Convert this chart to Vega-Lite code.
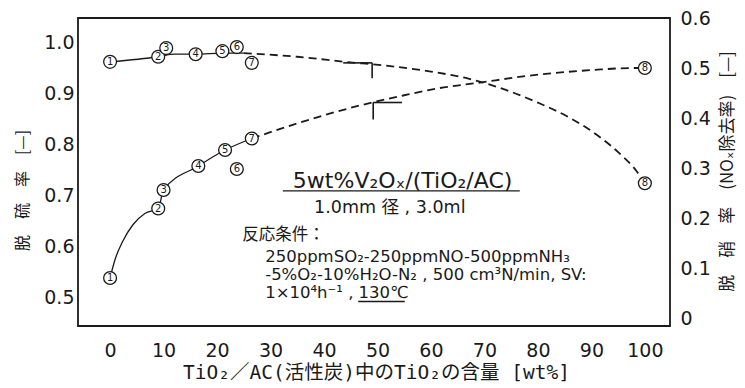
{
  "$schema": "https://vega.github.io/schema/vega-lite/v6.json",
  "width": 592,
  "height": 308,
  "autosize": "none",
  "padding": {"left": 78, "top": 18, "right": 75, "bottom": 62},
  "background": "white",
  "config": {
    "view": {"stroke": "#1a1a1a", "strokeWidth": 1.8},
    "axis": {
      "domain": false,
      "grid": false,
      "ticks": false,
      "labelFont": "DejaVu Sans",
      "labelFontSize": 19,
      "labelColor": "#1a1a1a",
      "titleColor": "#1a1a1a",
      "titleFontWeight": "normal"
    }
  },
  "datasets": {
    "so2Pts": [
      {"no": "1", "x": 0, "y": 0.963},
      {"no": "2", "x": 9, "y": 0.973},
      {"no": "3", "x": 10.5, "y": 0.99},
      {"no": "4", "x": 16, "y": 0.978},
      {"no": "5", "x": 21, "y": 0.984},
      {"no": "6", "x": 23.7, "y": 0.992},
      {"no": "7", "x": 26.5, "y": 0.961},
      {"no": "8", "x": 100, "y": 0.725}
    ],
    "so2Solid": [
      {"x": 0, "y": 0.963},
      {"x": 9, "y": 0.973},
      {"x": 12, "y": 0.978},
      {"x": 16, "y": 0.978},
      {"x": 21, "y": 0.98},
      {"x": 25, "y": 0.98}
    ],
    "so2Dash": [
      {"x": 25, "y": 0.98},
      {"x": 35, "y": 0.973},
      {"x": 44, "y": 0.963},
      {"x": 52, "y": 0.955},
      {"x": 60, "y": 0.944},
      {"x": 67, "y": 0.93},
      {"x": 74, "y": 0.908},
      {"x": 80, "y": 0.883},
      {"x": 86, "y": 0.853},
      {"x": 91, "y": 0.82},
      {"x": 95, "y": 0.786},
      {"x": 98.5, "y": 0.748},
      {"x": 100, "y": 0.725}
    ],
    "so2Flag": [
      {"x": 43.6, "x2": 49, "y": 0.961, "y2": 0.961},
      {"x": 49, "x2": 49, "y": 0.961, "y2": 0.931}
    ],
    "noxPts": [
      {"no": "1", "x": 0, "y": 0.08},
      {"no": "2", "x": 9, "y": 0.219},
      {"no": "3", "x": 10, "y": 0.256},
      {"no": "4", "x": 16.5, "y": 0.304},
      {"no": "5", "x": 21.5, "y": 0.336},
      {"no": "6", "x": 23.7, "y": 0.298},
      {"no": "7", "x": 26.5, "y": 0.359},
      {"no": "8", "x": 100, "y": 0.5}
    ],
    "noxSolid": [
      {"x": 0, "y": 0.08},
      {"x": 0.9, "y": 0.116},
      {"x": 2.4, "y": 0.154},
      {"x": 4.3, "y": 0.187},
      {"x": 6.5, "y": 0.209},
      {"x": 9, "y": 0.219},
      {"x": 10, "y": 0.256},
      {"x": 16.5, "y": 0.304},
      {"x": 21.5, "y": 0.336},
      {"x": 26.5, "y": 0.359}
    ],
    "noxDash": [
      {"x": 26.5, "y": 0.359},
      {"x": 35.5, "y": 0.391},
      {"x": 46.7, "y": 0.425},
      {"x": 54.8, "y": 0.445},
      {"x": 61.7, "y": 0.46},
      {"x": 68.6, "y": 0.47},
      {"x": 77.9, "y": 0.484},
      {"x": 90.3, "y": 0.496},
      {"x": 97.8, "y": 0.5},
      {"x": 100, "y": 0.5}
    ],
    "noxFlag": [
      {"x": 49.2, "x2": 49.2, "y": 0.431, "y2": 0.397},
      {"x": 49.2, "x2": 54.6, "y": 0.431, "y2": 0.431}
    ],
    "noteTitle": [
      {"label": "5wt%V₂Oₓ/(TiO₂/AC)", "x": 54.7, "y": 0.729}
    ],
    "noteCenter": [
      {"label": "1.0mm 径 , 3.0ml", "x": 52.3, "y": 0.676}
    ],
    "noteLeft": [
      {"label": "反応条件：", "x": 24.7, "y": 0.624},
      {"label": "250ppmSO₂-250ppmNO-500ppmNH₃", "x": 29, "y": 0.581},
      {"label": "-5%O₂-10%H₂O-N₂ , 500 cm³N/min, SV:", "x": 29, "y": 0.545},
      {"label": "1×10⁴h⁻¹ , 130℃", "x": 29, "y": 0.509}
    ],
    "underlines": [
      {"x": 32.3, "x2": 76.6, "y": 0.71},
      {"x": 46.4, "x2": 55.1, "y": 0.493}
    ],
    "xMajor": [
      {"x": 0}, {"x": 10}, {"x": 20}, {"x": 30}, {"x": 40}, {"x": 50},
      {"x": 60}, {"x": 70}, {"x": 80}, {"x": 90}, {"x": 100}
    ],
    "leftMajor": [
      {"y": 0.5}, {"y": 0.6}, {"y": 0.7}, {"y": 0.8}, {"y": 0.9}, {"y": 1.0}
    ],
    "leftMinor": [
      {"y": 0.55}, {"y": 0.65}, {"y": 0.75}, {"y": 0.85}, {"y": 0.95}
    ],
    "rightMajor": [
      {"y": 0}, {"y": 0.1}, {"y": 0.2}, {"y": 0.3}, {"y": 0.4}, {"y": 0.5}, {"y": 0.6}
    ],
    "rightMinor": [
      {"y": 0.05}, {"y": 0.15}, {"y": 0.25}, {"y": 0.35}, {"y": 0.45}, {"y": 0.55}
    ]
  },
  "encoding": {
    "x": {
      "field": "x",
      "type": "quantitative",
      "scale": {"domain": [-6, 104.7], "nice": false, "zero": false},
      "axis": {
        "values": [0, 10, 20, 30, 40, 50, 60, 70, 80, 90, 100],
        "labelPadding": 15,
        "title": "TiO₂／AC(活性炭)中のTiO₂の含量 [wt%]",
        "titleFont": "DejaVu Sans Mono, Noto Sans CJK JP",
        "titleFontSize": 19.5,
        "titleX": 298,
        "titleY": 46,
        "titleBaseline": "middle"
      }
    }
  },
  "layer": [
    {
      "encoding": {
        "y": {
          "field": "y",
          "type": "quantitative",
          "scale": {"domain": [0.445, 1.049], "nice": false, "zero": false},
          "axis": {
            "orient": "left",
            "values": [0.5, 0.6, 0.7, 0.8, 0.9, 1.0],
            "format": ".1f",
            "labelPadding": 4,
            "title": "脱　硫　率　[—]",
            "titleFont": "Noto Sans CJK JP",
            "titleFontSize": 16,
            "titleX": -56,
            "titleY": 172,
            "titleBaseline": "middle"
          }
        }
      },
      "layer": [
        {"data": {"name": "xMajor"}, "mark": {"type": "tick", "orient": "vertical", "color": "#1a1a1a", "size": 9, "thickness": 2, "yOffset": -4.5, "opacity": 1}, "encoding": {"y": {"datum": 0.445}}},
        {"data": {"name": "leftMajor"}, "mark": {"type": "tick", "orient": "horizontal", "color": "#1a1a1a", "size": 9, "thickness": 2, "xOffset": 4.5, "opacity": 1}, "encoding": {"x": {"datum": -6}}},
        {"data": {"name": "leftMinor"}, "mark": {"type": "tick", "orient": "horizontal", "color": "#1a1a1a", "size": 6, "thickness": 1.6, "xOffset": 3, "opacity": 1}, "encoding": {"x": {"datum": -6}}},
        {"data": {"name": "so2Solid"}, "mark": {"type": "line", "color": "#1a1a1a", "strokeWidth": 1.3, "interpolate": "monotone"}},
        {"data": {"name": "so2Dash"}, "mark": {"type": "line", "color": "#1a1a1a", "strokeWidth": 1.8, "strokeDash": [8, 5], "interpolate": "monotone"}},
        {"data": {"name": "so2Flag"}, "mark": {"type": "rule", "color": "#1a1a1a", "strokeWidth": 1.6}, "encoding": {"x2": {"field": "x2"}, "y2": {"field": "y2"}}},
        {"data": {"name": "underlines"}, "mark": {"type": "rule", "color": "#1a1a1a", "strokeWidth": 1.4}, "encoding": {"x2": {"field": "x2"}}},
        {"data": {"name": "so2Pts"}, "mark": {"type": "point", "shape": "circle", "size": 165, "filled": true, "fill": "white", "stroke": "#1a1a1a", "strokeWidth": 1.3, "opacity": 1}},
        {"data": {"name": "so2Pts"}, "mark": {"type": "text", "font": "DejaVu Sans", "fontSize": 10, "color": "#1a1a1a", "baseline": "middle", "align": "center"}, "encoding": {"text": {"field": "no"}}},
        {"data": {"name": "noteTitle"}, "mark": {"type": "text", "font": "DejaVu Sans, Noto Sans CJK JP", "fontSize": 22, "color": "#1a1a1a", "baseline": "middle", "align": "center"}, "encoding": {"text": {"field": "label"}}},
        {"data": {"name": "noteCenter"}, "mark": {"type": "text", "font": "DejaVu Sans, Noto Sans CJK JP", "fontSize": 17.5, "color": "#1a1a1a", "baseline": "middle", "align": "center"}, "encoding": {"text": {"field": "label"}}},
        {"data": {"name": "noteLeft"}, "mark": {"type": "text", "font": "DejaVu Sans, Noto Sans CJK JP", "fontSize": 16.5, "color": "#1a1a1a", "baseline": "middle", "align": "left"}, "encoding": {"text": {"field": "label"}}}
      ]
    },
    {
      "encoding": {
        "y": {
          "field": "y",
          "type": "quantitative",
          "scale": {"domain": [-0.016, 0.6], "nice": false, "zero": false},
          "axis": {
            "orient": "right",
            "values": [0, 0.1, 0.2, 0.3, 0.4, 0.5, 0.6],
            "labelExpr": "datum.value == 0 ? '0' : format(datum.value, '.1f')",
            "labelPadding": 10,
            "title": "脱　硝　率　(NOₓ除去率)　[—]",
            "titleFont": "Noto Sans CJK JP, DejaVu Sans",
            "titleFontSize": 17,
            "titleAngle": 270,
            "titleX": 57,
            "titleY": 153,
            "titleBaseline": "middle"
          }
        }
      },
      "layer": [
        {"data": {"name": "rightMajor"}, "mark": {"type": "tick", "orient": "horizontal", "color": "#1a1a1a", "size": 9, "thickness": 2, "xOffset": -4.5, "opacity": 1}, "encoding": {"x": {"datum": 104.7}}},
        {"data": {"name": "rightMinor"}, "mark": {"type": "tick", "orient": "horizontal", "color": "#1a1a1a", "size": 6, "thickness": 1.6, "xOffset": -3, "opacity": 1}, "encoding": {"x": {"datum": 104.7}}},
        {"data": {"name": "noxSolid"}, "mark": {"type": "line", "color": "#1a1a1a", "strokeWidth": 1.3, "interpolate": "monotone"}},
        {"data": {"name": "noxDash"}, "mark": {"type": "line", "color": "#1a1a1a", "strokeWidth": 1.8, "strokeDash": [8, 5], "interpolate": "monotone"}},
        {"data": {"name": "noxFlag"}, "mark": {"type": "rule", "color": "#1a1a1a", "strokeWidth": 1.6}, "encoding": {"x2": {"field": "x2"}, "y2": {"field": "y2"}}},
        {"data": {"name": "noxPts"}, "mark": {"type": "point", "shape": "circle", "size": 165, "filled": true, "fill": "white", "stroke": "#1a1a1a", "strokeWidth": 1.3, "opacity": 1}},
        {"data": {"name": "noxPts"}, "mark": {"type": "text", "font": "DejaVu Sans", "fontSize": 10, "color": "#1a1a1a", "baseline": "middle", "align": "center"}, "encoding": {"text": {"field": "no"}}}
      ]
    }
  ],
  "resolve": {"scale": {"y": "independent"}}
}
